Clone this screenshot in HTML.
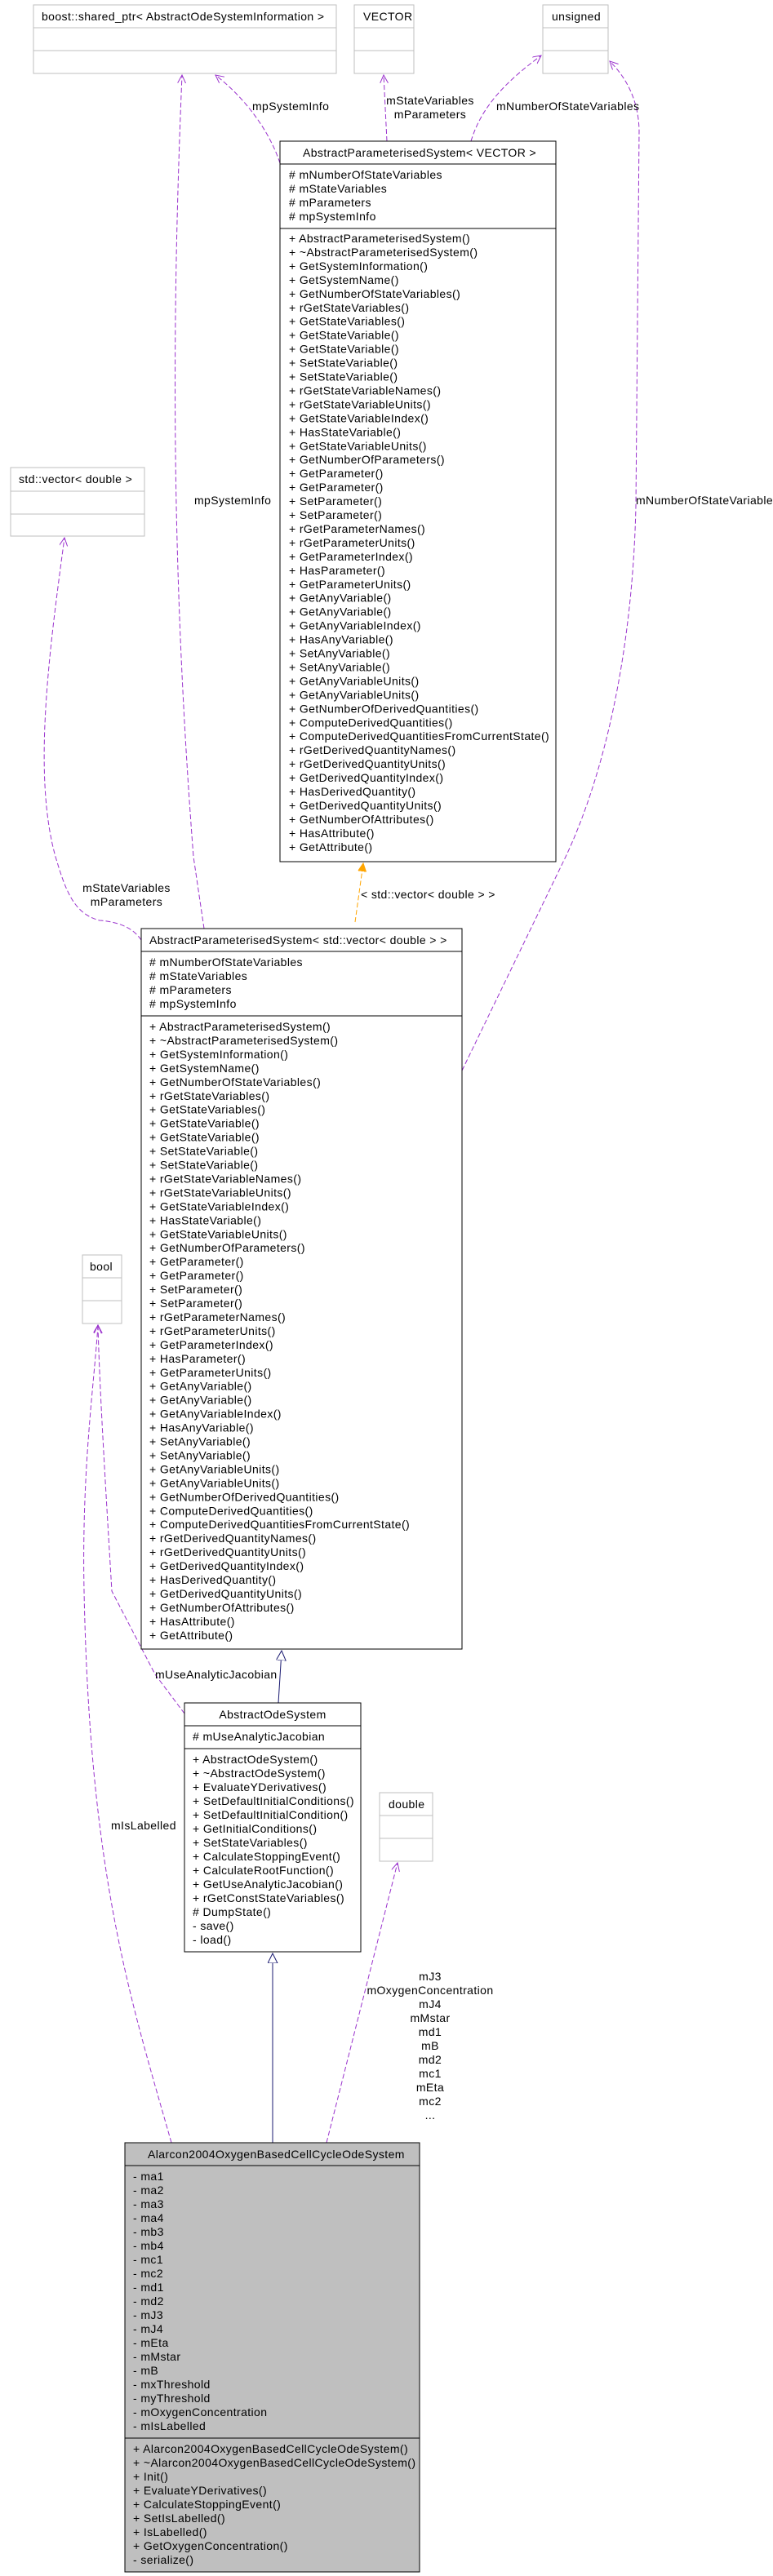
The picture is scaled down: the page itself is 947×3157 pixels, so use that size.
<!DOCTYPE html>
<html><head><meta charset="utf-8"><style>
html,body{margin:0;padding:0;background:#fff;}
svg{display:block;}
text{font-family:"Liberation Sans",sans-serif;font-size:14px;letter-spacing:0.4px;fill:#000;}
</style></head><body>
<svg width="947" height="3157" viewBox="0 0 947 3157" xmlns="http://www.w3.org/2000/svg">
<defs>
<marker id="pv" markerWidth="12" markerHeight="12" refX="10" refY="5" orient="auto" markerUnits="userSpaceOnUse"><path d="M0,0 L10,5 L0,10" fill="none" stroke="#9a32cd" stroke-width="1"/></marker>
<marker id="or" markerWidth="12" markerHeight="12" refX="10" refY="5" orient="auto" markerUnits="userSpaceOnUse"><path d="M0,0 L10,5 L0,10 z" fill="#ffa500" stroke="#ffa500"/></marker>
<marker id="nv" markerWidth="14" markerHeight="14" refX="12" refY="6" orient="auto" markerUnits="userSpaceOnUse"><path d="M0,0 L12,6 L0,12 z" fill="#fff" stroke="#191970"/></marker>
</defs>

<!-- gray boxes -->
<g fill="#fff" stroke="#bfbfbf" stroke-width="1">
<rect x="41" y="6" width="371" height="84"/><line x1="41" y1="34" x2="412" y2="34"/><line x1="41" y1="62" x2="412" y2="62"/>
<rect x="434" y="6" width="73" height="84"/><line x1="434" y1="34" x2="507" y2="34"/><line x1="434" y1="62" x2="507" y2="62"/>
<rect x="665" y="6" width="80" height="84"/><line x1="665" y1="34" x2="745" y2="34"/><line x1="665" y1="62" x2="745" y2="62"/>
<rect x="13" y="573" width="164" height="84"/><line x1="13" y1="602" x2="177" y2="602"/><line x1="13" y1="630" x2="177" y2="630"/>
<rect x="101" y="1538" width="48" height="84"/><line x1="101" y1="1566" x2="149" y2="1566"/><line x1="101" y1="1594" x2="149" y2="1594"/>
<rect x="465" y="2197" width="65" height="84"/><line x1="465" y1="2225" x2="530" y2="2225"/><line x1="465" y1="2253" x2="530" y2="2253"/>
</g>
<text x="51" y="25">boost::shared_ptr&lt; AbstractOdeSystemInformation &gt;</text>
<text x="445" y="25">VECTOR</text>
<text x="676" y="25">unsigned</text>
<text x="23" y="592">std::vector&lt; double &gt;</text>
<text x="110" y="1557">bool</text>
<text x="476" y="2216">double</text>

<!-- connectors -->
<g fill="none" stroke="#9a32cd" stroke-width="1" stroke-dasharray="6,3">
<path d="M343,200 C330,160 300,120 264,92" marker-end="url(#pv)"/>
<path d="M474,173 L470,92" marker-end="url(#pv)"/>
<path d="M577,173 C590,130 620,100 663,68" marker-end="url(#pv)"/>
<path d="M566,1312 L693,1050 C740,950 775,800 779,620 L783,160 Q782,110 747,75" marker-end="url(#pv)"/>
<path d="M250,1138 L237,1050 C210,700 210,400 223,92" marker-end="url(#pv)"/>
<path d="M173,1152 C165,1140 150,1130 122,1128 C90,1120 80,1090 68,1050 C40,950 60,800 79,659" marker-end="url(#pv)"/>
<path d="M226,2100 L190,2052 L137,1950 C128,1800 122,1700 120,1624" marker-end="url(#pv)"/>
<path d="M210,2626 C160,2450 110,2300 103,1950 C100,1800 115,1700 120,1624" marker-end="url(#pv)"/>
<path d="M400,2626 L487,2283" marker-end="url(#pv)"/>
</g>
<path d="M435,1130 L445,1058" fill="none" stroke="#ffa500" stroke-dasharray="6,3" marker-end="url(#or)"/>
<path d="M341,2087 L345,2023" fill="none" stroke="#191970" marker-end="url(#nv)"/>
<path d="M334,2626 L334,2394" fill="none" stroke="#191970" marker-end="url(#nv)"/>

<!-- connector labels -->
<text x="309" y="135">mpSystemInfo</text>
<text x="527" y="128" text-anchor="middle">mStateVariables</text>
<text x="527" y="145" text-anchor="middle">mParameters</text>
<text x="608" y="135">mNumberOfStateVariables</text>
<text x="238" y="618">mpSystemInfo</text>
<text x="779" y="618">mNumberOfStateVariables</text>
<text x="155" y="1093" text-anchor="middle">mStateVariables</text>
<text x="155" y="1110" text-anchor="middle">mParameters</text>
<text x="442" y="1101">&lt; std::vector&lt; double &gt; &gt;</text>
<text x="190" y="2057">mUseAnalyticJacobian</text>
<text x="136" y="2242">mIsLabelled</text>
<text x="527" y="2427" text-anchor="middle"><tspan x="527">mJ3</tspan><tspan x="527" dy="17">mOxygenConcentration</tspan><tspan x="527" dy="17">mJ4</tspan><tspan x="527" dy="17">mMstar</tspan><tspan x="527" dy="17">md1</tspan><tspan x="527" dy="17">mB</tspan><tspan x="527" dy="17">md2</tspan><tspan x="527" dy="17">mc1</tspan><tspan x="527" dy="17">mEta</tspan><tspan x="527" dy="17">mc2</tspan><tspan x="527" dy="17">...</tspan></text>

<!-- AbstractParameterisedSystem< VECTOR > -->
<g fill="#fff" stroke="#000" stroke-width="1">
<rect x="343" y="173" width="338" height="883"/><line x1="343" y1="201" x2="681" y2="201"/><line x1="343" y1="280" x2="681" y2="280"/>
<rect x="173" y="1138" width="393" height="883"/><line x1="173" y1="1166" x2="566" y2="1166"/><line x1="173" y1="1245" x2="566" y2="1245"/>
<rect x="226" y="2087" width="216" height="305"/><line x1="226" y1="2115" x2="442" y2="2115"/><line x1="226" y1="2143" x2="442" y2="2143"/>
<rect x="153" y="2626" width="361" height="526" fill="#bfbfbf"/><line x1="153" y1="2654" x2="514" y2="2654"/><line x1="153" y1="2988" x2="514" y2="2988"/>
</g>

<text x="371" y="192">AbstractParameterisedSystem&lt; VECTOR &gt;</text>
<text x="354" y="219"><tspan x="354"># mNumberOfStateVariables</tspan><tspan x="354" dy="17"># mStateVariables</tspan><tspan x="354" dy="17"># mParameters</tspan><tspan x="354" dy="17"># mpSystemInfo</tspan></text>
<text x="354" y="297"><tspan x="354">+ AbstractParameterisedSystem()</tspan><tspan x="354" dy="16.95">+ ~AbstractParameterisedSystem()</tspan><tspan x="354" dy="16.95">+ GetSystemInformation()</tspan><tspan x="354" dy="16.95">+ GetSystemName()</tspan><tspan x="354" dy="16.95">+ GetNumberOfStateVariables()</tspan><tspan x="354" dy="16.95">+ rGetStateVariables()</tspan><tspan x="354" dy="16.95">+ GetStateVariables()</tspan><tspan x="354" dy="16.95">+ GetStateVariable()</tspan><tspan x="354" dy="16.95">+ GetStateVariable()</tspan><tspan x="354" dy="16.95">+ SetStateVariable()</tspan><tspan x="354" dy="16.95">+ SetStateVariable()</tspan><tspan x="354" dy="16.95">+ rGetStateVariableNames()</tspan><tspan x="354" dy="16.95">+ rGetStateVariableUnits()</tspan><tspan x="354" dy="16.95">+ GetStateVariableIndex()</tspan><tspan x="354" dy="16.95">+ HasStateVariable()</tspan><tspan x="354" dy="16.95">+ GetStateVariableUnits()</tspan><tspan x="354" dy="16.95">+ GetNumberOfParameters()</tspan><tspan x="354" dy="16.95">+ GetParameter()</tspan><tspan x="354" dy="16.95">+ GetParameter()</tspan><tspan x="354" dy="16.95">+ SetParameter()</tspan><tspan x="354" dy="16.95">+ SetParameter()</tspan><tspan x="354" dy="16.95">+ rGetParameterNames()</tspan><tspan x="354" dy="16.95">+ rGetParameterUnits()</tspan><tspan x="354" dy="16.95">+ GetParameterIndex()</tspan><tspan x="354" dy="16.95">+ HasParameter()</tspan><tspan x="354" dy="16.95">+ GetParameterUnits()</tspan><tspan x="354" dy="16.95">+ GetAnyVariable()</tspan><tspan x="354" dy="16.95">+ GetAnyVariable()</tspan><tspan x="354" dy="16.95">+ GetAnyVariableIndex()</tspan><tspan x="354" dy="16.95">+ HasAnyVariable()</tspan><tspan x="354" dy="16.95">+ SetAnyVariable()</tspan><tspan x="354" dy="16.95">+ SetAnyVariable()</tspan><tspan x="354" dy="16.95">+ GetAnyVariableUnits()</tspan><tspan x="354" dy="16.95">+ GetAnyVariableUnits()</tspan><tspan x="354" dy="16.95">+ GetNumberOfDerivedQuantities()</tspan><tspan x="354" dy="16.95">+ ComputeDerivedQuantities()</tspan><tspan x="354" dy="16.95">+ ComputeDerivedQuantitiesFromCurrentState()</tspan><tspan x="354" dy="16.95">+ rGetDerivedQuantityNames()</tspan><tspan x="354" dy="16.95">+ rGetDerivedQuantityUnits()</tspan><tspan x="354" dy="16.95">+ GetDerivedQuantityIndex()</tspan><tspan x="354" dy="16.95">+ HasDerivedQuantity()</tspan><tspan x="354" dy="16.95">+ GetDerivedQuantityUnits()</tspan><tspan x="354" dy="16.95">+ GetNumberOfAttributes()</tspan><tspan x="354" dy="16.95">+ HasAttribute()</tspan><tspan x="354" dy="16.95">+ GetAttribute()</tspan></text>

<text x="183" y="1157">AbstractParameterisedSystem&lt; std::vector&lt; double &gt; &gt;</text>
<text x="183" y="1184"><tspan x="183"># mNumberOfStateVariables</tspan><tspan x="183" dy="17"># mStateVariables</tspan><tspan x="183" dy="17"># mParameters</tspan><tspan x="183" dy="17"># mpSystemInfo</tspan></text>
<text x="183" y="1263"><tspan x="183">+ AbstractParameterisedSystem()</tspan><tspan x="183" dy="16.95">+ ~AbstractParameterisedSystem()</tspan><tspan x="183" dy="16.95">+ GetSystemInformation()</tspan><tspan x="183" dy="16.95">+ GetSystemName()</tspan><tspan x="183" dy="16.95">+ GetNumberOfStateVariables()</tspan><tspan x="183" dy="16.95">+ rGetStateVariables()</tspan><tspan x="183" dy="16.95">+ GetStateVariables()</tspan><tspan x="183" dy="16.95">+ GetStateVariable()</tspan><tspan x="183" dy="16.95">+ GetStateVariable()</tspan><tspan x="183" dy="16.95">+ SetStateVariable()</tspan><tspan x="183" dy="16.95">+ SetStateVariable()</tspan><tspan x="183" dy="16.95">+ rGetStateVariableNames()</tspan><tspan x="183" dy="16.95">+ rGetStateVariableUnits()</tspan><tspan x="183" dy="16.95">+ GetStateVariableIndex()</tspan><tspan x="183" dy="16.95">+ HasStateVariable()</tspan><tspan x="183" dy="16.95">+ GetStateVariableUnits()</tspan><tspan x="183" dy="16.95">+ GetNumberOfParameters()</tspan><tspan x="183" dy="16.95">+ GetParameter()</tspan><tspan x="183" dy="16.95">+ GetParameter()</tspan><tspan x="183" dy="16.95">+ SetParameter()</tspan><tspan x="183" dy="16.95">+ SetParameter()</tspan><tspan x="183" dy="16.95">+ rGetParameterNames()</tspan><tspan x="183" dy="16.95">+ rGetParameterUnits()</tspan><tspan x="183" dy="16.95">+ GetParameterIndex()</tspan><tspan x="183" dy="16.95">+ HasParameter()</tspan><tspan x="183" dy="16.95">+ GetParameterUnits()</tspan><tspan x="183" dy="16.95">+ GetAnyVariable()</tspan><tspan x="183" dy="16.95">+ GetAnyVariable()</tspan><tspan x="183" dy="16.95">+ GetAnyVariableIndex()</tspan><tspan x="183" dy="16.95">+ HasAnyVariable()</tspan><tspan x="183" dy="16.95">+ SetAnyVariable()</tspan><tspan x="183" dy="16.95">+ SetAnyVariable()</tspan><tspan x="183" dy="16.95">+ GetAnyVariableUnits()</tspan><tspan x="183" dy="16.95">+ GetAnyVariableUnits()</tspan><tspan x="183" dy="16.95">+ GetNumberOfDerivedQuantities()</tspan><tspan x="183" dy="16.95">+ ComputeDerivedQuantities()</tspan><tspan x="183" dy="16.95">+ ComputeDerivedQuantitiesFromCurrentState()</tspan><tspan x="183" dy="16.95">+ rGetDerivedQuantityNames()</tspan><tspan x="183" dy="16.95">+ rGetDerivedQuantityUnits()</tspan><tspan x="183" dy="16.95">+ GetDerivedQuantityIndex()</tspan><tspan x="183" dy="16.95">+ HasDerivedQuantity()</tspan><tspan x="183" dy="16.95">+ GetDerivedQuantityUnits()</tspan><tspan x="183" dy="16.95">+ GetNumberOfAttributes()</tspan><tspan x="183" dy="16.95">+ HasAttribute()</tspan><tspan x="183" dy="16.95">+ GetAttribute()</tspan></text>

<text x="334" y="2106" text-anchor="middle">AbstractOdeSystem</text>
<text x="236" y="2133"># mUseAnalyticJacobian</text>
<text x="236" y="2161"><tspan x="236">+ AbstractOdeSystem()</tspan><tspan x="236" dy="17">+ ~AbstractOdeSystem()</tspan><tspan x="236" dy="17">+ EvaluateYDerivatives()</tspan><tspan x="236" dy="17">+ SetDefaultInitialConditions()</tspan><tspan x="236" dy="17">+ SetDefaultInitialCondition()</tspan><tspan x="236" dy="17">+ GetInitialConditions()</tspan><tspan x="236" dy="17">+ SetStateVariables()</tspan><tspan x="236" dy="17">+ CalculateStoppingEvent()</tspan><tspan x="236" dy="17">+ CalculateRootFunction()</tspan><tspan x="236" dy="17">+ GetUseAnalyticJacobian()</tspan><tspan x="236" dy="17">+ rGetConstStateVariables()</tspan><tspan x="236" dy="17"># DumpState()</tspan><tspan x="236" dy="17">- save()</tspan><tspan x="236" dy="17">- load()</tspan></text>

<text x="181" y="2645">Alarcon2004OxygenBasedCellCycleOdeSystem</text>
<text x="163" y="2672"><tspan x="163">- ma1</tspan><tspan x="163" dy="17">- ma2</tspan><tspan x="163" dy="17">- ma3</tspan><tspan x="163" dy="17">- ma4</tspan><tspan x="163" dy="17">- mb3</tspan><tspan x="163" dy="17">- mb4</tspan><tspan x="163" dy="17">- mc1</tspan><tspan x="163" dy="17">- mc2</tspan><tspan x="163" dy="17">- md1</tspan><tspan x="163" dy="17">- md2</tspan><tspan x="163" dy="17">- mJ3</tspan><tspan x="163" dy="17">- mJ4</tspan><tspan x="163" dy="17">- mEta</tspan><tspan x="163" dy="17">- mMstar</tspan><tspan x="163" dy="17">- mB</tspan><tspan x="163" dy="17">- mxThreshold</tspan><tspan x="163" dy="17">- myThreshold</tspan><tspan x="163" dy="17">- mOxygenConcentration</tspan><tspan x="163" dy="17">- mIsLabelled</tspan></text>
<text x="163" y="3006"><tspan x="163">+ Alarcon2004OxygenBasedCellCycleOdeSystem()</tspan><tspan x="163" dy="17">+ ~Alarcon2004OxygenBasedCellCycleOdeSystem()</tspan><tspan x="163" dy="17">+ Init()</tspan><tspan x="163" dy="17">+ EvaluateYDerivatives()</tspan><tspan x="163" dy="17">+ CalculateStoppingEvent()</tspan><tspan x="163" dy="17">+ SetIsLabelled()</tspan><tspan x="163" dy="17">+ IsLabelled()</tspan><tspan x="163" dy="17">+ GetOxygenConcentration()</tspan><tspan x="163" dy="17">- serialize()</tspan></text>
</svg>
</body></html>
